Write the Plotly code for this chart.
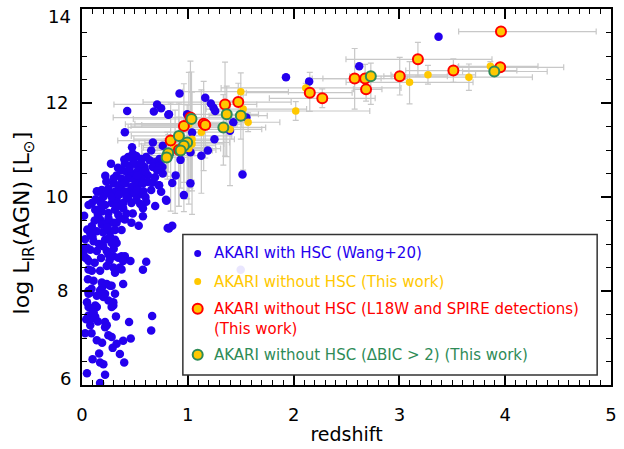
import plotly.graph_objects as go

# AKARI sources with HSC counterparts (Wang+20)
blue_z = [
    0.427, 0.710, 0.748, 0.679, 0.816, 0.405, 0.473, 0.670, 0.274, 0.654, 0.763,
    0.436, 0.483, 0.514, 0.561, 0.607, 0.639, 0.685, 0.732, 0.405, 0.452, 0.498,
    0.545, 0.592, 0.670, 0.732, 0.374, 0.421, 0.467, 0.530, 0.576, 0.623, 0.710,
    0.763, 0.327, 0.374, 0.436, 0.498, 0.561, 0.623, 0.296, 0.343, 0.405, 0.467,
    0.530, 0.576, 0.670, 0.726, 0.748, 0.187, 0.249, 0.312, 0.374, 0.436, 0.483,
    0.654, 0.140,
    0.156, 0.249, 0.405, 0.498, 0.545, 0.062, 0.093, 0.171, 0.218, 0.280, 0.327,
    0.389, 0.436, 0.467, 0.514, 0.607, 0.692, 0.794, 0.576, 0.125, 0.187, 0.249,
    0.312, 0.389, 0.343, 0.576, 0.405, 0.467, 0.536, 0.171, 0.187, 0.234, 0.296,
    0.327, 0.093, 0.078, 0.140, 0.265, 0.312, 0.374, 0.810, 0.109, 0.218, 0.265,
    0.312, 0.280, 0.327, 0.047, 0.078, 0.140, 0.234, 0.249, 0.296, 0.343, 0.374,
    0.405, 0.389, 0.458, 0.607, 0.576, 0.031, 0.062, 0.062, 0.093, 0.171, 0.234,
    0.296, 0.312, 0.358, 0.374, 0.056, 0.109, 0.187, 0.234, 0.280, 0.389,
    0.187, 0.265, 0.062, 0.078, 0.171, 0.218, 0.202, 0.312, 0.047, 0.062, 0.093,
    0.125, 0.140, 0.296, 0.296, 0.280, 0.062, 0.093, 0.125, 0.078, 0.321, 0.218,
    0.234, 0.218, 0.445, 0.663, 0.654, 0.249, 0.280, 0.461, 0.389, 0.327, 0.290,
    0.162, 0.358, 0.171, 0.202, 0.399, 0.047, 0.218, 0.171,
    0.050, 0.028, 0.050, 0.012, 0.060, 0.075,
    0.922, 1.165, 1.218, 1.243, 1.259, 0.822, 0.994, 1.041, 1.430, 1.399, 1.554,
    1.252, 1.190, 1.128, 1.025, 0.754, 0.760, 0.885, 0.853, 1.025, 0.963, 1.517,
    0.729, 0.931,
    0.798, 0.822, 0.853, 1.928, 2.147, 2.620, 3.370, 1.500,
    0.200, 0.280, 0.350, 0.420, 0.520, 0.580, 0.600, 0.550, 0.480, 0.420,
    0.360, 0.250, 0.150, 0.120, 0.200, 0.240, 0.020, 0.030, 0.100, 0.160,
    0.200, 0.180, 0.120, 0.260, 0.300, 0.090, 0.140, 0.250, 0.040, 0.110,
    0.150, 0.030, 0.090, 0.140, 0.190, 0.100, 0.330, 0.450, 0.520, 0.600,
    0.690, 0.560, 0.480, 0.400, 0.340, 0.300, 0.230, 0.180, 0.130, 0.220,
]
blue_lir = [
    11.83, 11.97, 11.89, 11.82, 11.75, 11.38, 11.06, 11.16, 10.71, 10.99, 11.09,
    10.85, 10.81, 10.87, 10.81, 10.85, 10.78, 10.74, 10.81, 10.71, 10.67, 10.71,
    10.67, 10.64, 10.64, 10.67, 10.57, 10.53, 10.50, 10.57, 10.52, 10.46, 10.57,
    10.50, 10.46, 10.39, 10.39, 10.36, 10.39, 10.32, 10.29, 10.25, 10.29, 10.22,
    10.25, 10.29, 10.31, 10.25, 10.11, 10.15, 10.18, 10.11, 10.15, 10.11, 10.08,
    10.15, 10.12,
    10.11, 10.08, 10.11, 10.08, 10.06, 9.83, 9.87, 9.90, 9.83, 9.87, 9.94,
    9.87, 9.97, 9.87, 9.94, 9.90, 9.81, 9.94, 9.76, 9.73, 9.69, 9.66,
    9.73, 9.76, 9.62, 9.59, 9.52, 9.45, 9.39, 9.52, 9.41, 9.45, 9.45,
    9.45, 9.38, 9.23, 9.27, 9.27, 9.30, 9.30, 9.34, 9.06, 9.09, 9.16,
    9.09, 9.02, 9.02, 8.92, 8.88, 8.85, 8.85, 8.78, 8.74, 8.71, 8.74,
    8.74, 8.64, 8.64, 8.62, 8.45, 8.71, 8.64, 8.46, 8.43, 8.43, 8.53,
    8.50, 8.39, 8.50, 8.46, 8.25, 8.22, 8.18, 8.15, 8.11, 8.15,
    8.06, 8.11, 7.94, 7.97, 8.01, 7.94, 7.87, 7.94, 7.76, 7.66, 7.62,
    7.69, 7.66, 7.76, 7.69, 7.66, 7.48, 7.45, 7.45, 7.27, 7.46, 7.34,
    7.27, 7.23, 7.34, 7.47, 7.16, 7.06, 7.02, 6.99, 6.94, 6.88, 6.79,
    6.67, 6.66, 6.48, 6.44, 6.48, 6.25, 6.22, 6.04,
    9.31, 8.92, 8.68, 8.80, 8.00, 7.37,
    12.20, 12.11, 11.99, 11.90, 11.83, 11.76, 11.76, 11.37, 11.59, 11.41, 11.69,
    11.23, 10.99, 10.88, 10.95, 10.81, 10.64, 10.46, 10.30, 10.29, 10.04, 10.48,
    10.25, 10.79,
    9.92, 9.33, 9.39, 12.55, 12.46, 12.78, 13.41, 8.45,
    10.00, 10.00, 10.05, 10.00, 10.15, 10.12, 10.00, 9.85, 9.65, 9.65,
    9.55, 9.55, 9.62, 9.50, 9.25, 9.35, 9.60, 9.10, 9.15, 9.00,
    8.95, 8.70, 8.60, 8.65, 8.90, 8.05, 7.90, 7.80, 7.40, 7.55,
    7.35, 7.10, 7.10, 6.95, 6.90, 6.55, 9.80, 10.60, 10.45, 10.55,
    10.42, 10.72, 10.92, 10.80, 10.62, 10.40, 10.33, 9.78, 9.95, 10.45,
]

# AKARI sources without HSC counterparts (this work)
nh_z = [
    3.960, 3.175, 2.577, 2.676, 2.730, 2.685, 3.003, 3.270, 3.096, 3.510,
    3.657, 3.860, 3.953, 3.897, 2.153, 2.271, 2.115, 2.020, 1.501, 1.477,
    1.352, 1.368, 1.501, 1.523, 1.570, 1.336, 1.399, 1.150, 1.165, 1.128,
    1.025, 1.035, 0.963, 1.010, 0.916, 0.838, 0.994, 1.040, 0.916, 0.963,
    1.040, 0.807, 0.815, 0.800, 0.880, 0.932, 1.010,
]
nh_lir = [
    13.52, 12.93, 12.52, 12.52, 12.57, 12.29, 12.57, 12.60, 12.44, 12.69,
    12.55, 12.78, 12.76, 12.67, 12.22, 12.10, 12.32, 11.83, 12.24, 12.02,
    11.97, 11.76, 11.73, 11.87, 11.59, 11.48, 11.44, 11.56, 11.53, 11.38,
    11.69, 11.66, 11.51, 11.55, 11.30, 11.20, 11.16, 11.23, 11.00, 11.09,
    11.13, 10.88, 10.93, 10.84, 11.05, 10.99, 11.03,
]
nh_z_err_lo = [
    0.40, 0.68, 0.30, 0.50, 0.20, 0.12, 0.15, 0.35, 0.60, 0.45,
    0.60, 0.30, 0.40, 0.30, 0.60, 0.50, 0.80, 0.80, 0.55, 0.90,
    1.05, 0.40, 0.30, 0.35, 0.50, 0.90, 0.40, 0.65, 0.60, 0.70,
    0.73, 0.55, 0.50, 0.60, 0.45, 0.50, 0.40, 0.55, 0.35, 0.40,
    0.50, 0.20, 0.25, 0.20, 0.30, 0.30, 0.30,
]
nh_z_err_hi = [
    0.90, 0.70, 0.25, 0.40, 0.20, 0.15, 0.45, 0.45, 0.60, 0.60,
    0.60, 0.45, 0.60, 0.50, 0.40, 0.50, 0.90, 0.70, 0.45, 0.50,
    0.30, 0.30, 0.25, 0.60, 0.30, 0.40, 0.30, 0.30, 0.30, 0.25,
    0.45, 0.35, 0.40, 0.50, 0.50, 0.40, 0.40, 0.40, 0.35, 0.30,
    0.30, 0.30, 0.25, 0.20, 0.30, 0.30, 0.30,
]
nh_lir_err_lo = [
    0.06, 0.36, 0.65, 0.30, 0.60, 0.25, 0.40, 0.20, 0.46, 0.25,
    0.28, 0.10, 0.08, 0.08, 0.40, 0.20, 0.10, 0.20, 0.40, 0.40,
    1.10, 0.90, 0.50, 1.30, 0.20, 0.80, 1.20, 1.00, 0.70, 1.30,
    1.50, 1.30, 1.20, 1.70, 1.50, 1.50, 1.20, 1.60, 1.20, 1.40,
    1.00, 0.50, 0.40, 0.40, 1.40, 0.80, 0.90,
]
nh_lir_err_hi = [
    0.06, 0.36, 0.64, 0.30, 0.28, 0.25, 0.40, 0.20, 0.44, 0.25,
    0.28, 0.10, 0.08, 0.08, 0.43, 0.20, 0.10, 0.20, 0.40, 0.40,
    0.90, 0.60, 0.50, 0.30, 0.20, 0.70, 0.60, 0.90, 0.60, 0.90,
    1.20, 1.00, 0.90, 1.10, 0.70, 0.80, 0.80, 1.00, 0.70, 0.60,
    0.50, 0.50, 0.40, 0.40, 0.80, 0.50, 0.60,
]
# y: plain, r: L18W and SPIRE detections, g: delta BIC > 2
nh_class = [
    "r", "r", "r", "r", "g", "r", "r", "y", "y", "r",
    "y", "y", "r", "g", "r", "r", "y", "y", "y", "r",
    "r", "g", "g", "y", "y", "g", "y", "r", "r", "y",
    "r", "g", "r", "y", "g", "r", "g", "y", "r", "g",
    "y", "g", "g", "g", "y", "g", "y",
]

x_ticks = [0, 1, 2, 3, 4, 5]
y_ticks = [6, 8, 10, 12, 14]

legend_labels = [
    "AKARI with HSC (Wang+20)",
    "AKARI without HSC (This work)",
    "AKARI without HSC (L18W and SPIRE detections)",
    "(This work)",
    "AKARI without HSC (\u0394BIC > 2) (This work)",
]

BLUE = "#2400ee"
GOLD = "#ffc800"
RED = "#ff0000"
GREEN = "#2e8b57"
GREY = "#c8c8c8"
FONT = "DejaVu Sans"

# plot area in pixels (used to place the legend panel and edge labels)
PLOT_L, PLOT_R, PLOT_T, PLOT_B = 82, 617, 7, 387


def px_x(px):
    return (px - PLOT_L) / (PLOT_R - PLOT_L)


def px_y(py):
    return (PLOT_B - py) / (PLOT_B - PLOT_T)


def pick(values, cls):
    return [v for v, c in zip(values, nh_class) if c == cls]


fig = go.Figure()

# error bars of the no-HSC sample, below everything else
fig.add_trace(go.Scatter(
    x=nh_z, y=nh_lir, mode="markers",
    marker=dict(size=6, color="rgba(0,0,0,0)"),
    error_x=dict(type="data", symmetric=False, array=nh_z_err_hi,
                 arrayminus=nh_z_err_lo, color=GREY, thickness=1.2, width=3),
    error_y=dict(type="data", symmetric=False, array=nh_lir_err_hi,
                 arrayminus=nh_lir_err_lo, color=GREY, thickness=1.2, width=3),
    showlegend=False, hoverinfo="skip",
))

fig.add_trace(go.Scatter(
    x=blue_z, y=blue_lir, mode="markers",
    marker=dict(size=8.5, color=BLUE, line=dict(width=0)),
    showlegend=False,
))

fig.add_trace(go.Scatter(
    x=pick(nh_z, "y"), y=pick(nh_lir, "y"), mode="markers",
    marker=dict(size=7.5, color=GOLD, line=dict(width=0)),
    showlegend=False,
))

fig.add_trace(go.Scatter(
    x=pick(nh_z, "r"), y=pick(nh_lir, "r"), mode="markers",
    marker=dict(size=10, color=GOLD, line=dict(width=2, color=RED)),
    showlegend=False,
))

fig.add_trace(go.Scatter(
    x=pick(nh_z, "g"), y=pick(nh_lir, "g"), mode="markers",
    marker=dict(size=10, color=GOLD, line=dict(width=2, color=GREEN)),
    showlegend=False,
))

tick_font = dict(family=FONT, size=18, color="black")
axis_common = dict(
    showline=True, linecolor="black", linewidth=2, mirror="allticks",
    ticks="inside", ticklen=10, tickwidth=1.5, tickcolor="black",
    showgrid=False, zeroline=False, tickmode="array",
    tickfont=tick_font,
)

fig.update_xaxes(
    range=[0, 5], tickvals=x_ticks, ticklabelstandoff=12,
    ticklabeloverflow="allow",
    minor=dict(tickmode="linear", tick0=0, dtick=0.1, ticklen=5, tickwidth=1.2,
               tickcolor="black", ticks="inside"),
    title=dict(text="redshift", font=dict(family=FONT, size=19, color="black"), standoff=4),
    **axis_common,
)
# the end labels 6 and 14 are nudged inward, so they are set as separate texts
fig.update_yaxes(
    range=[6, 14], tickvals=y_ticks, ticklabelstandoff=8,
    ticktext=["" if v in (y_ticks[0], y_ticks[-1]) else str(v) for v in y_ticks],
    minor=dict(tickmode="linear", tick0=6, dtick=0.5, ticklen=5, tickwidth=1.2,
               tickcolor="black", ticks="inside"),
    **axis_common,
)

annotations = [
    dict(text="log L<sub>IR</sub>(AGN) [L<sub>\u2299</sub>]", textangle=-90,
         xref="paper", yref="paper", x=px_x(23), y=px_y(223),
         xanchor="center", yanchor="middle",
         showarrow=False, font=dict(family=FONT, size=22, color="black")),
    dict(text=str(y_ticks[-1]), xref="paper", yref="paper", x=px_x(73), y=px_y(15),
         xanchor="right", yanchor="middle", showarrow=False, font=tick_font),
    dict(text=str(y_ticks[0]), xref="paper", yref="paper", x=px_x(73), y=px_y(380),
         xanchor="right", yanchor="middle", showarrow=False, font=tick_font),
]

# legend panel
shapes = [
    dict(type="rect", xref="paper", yref="paper", layer="above",
         x0=px_x(184), x1=px_x(603), y0=px_y(377), y1=px_y(235),
         fillcolor="rgba(255,255,255,0.9)", line=dict(color="#333333", width=1.5)),
]
mx = px_x(199)
tx = px_x(213)
rows = [px_y(254), px_y(282.5), px_y(310), px_y(330.5), px_y(356.5)]
entry_style = [
    (BLUE, None, 7, BLUE),
    (GOLD, None, 7, GOLD),
    (GOLD, RED, 10, RED),
    None,
    (GOLD, GREEN, 10, GREEN),
]
for label, ry, style in zip(legend_labels, rows, entry_style):
    if style is not None:
        fill, ring, size, txt_color = style
        half = size / 2
        shapes.append(dict(
            type="circle", xref="paper", yref="paper", layer="above",
            xsizemode="pixel", ysizemode="pixel", xanchor=mx, yanchor=ry,
            x0=-half, x1=half, y0=-half, y1=half, fillcolor=fill,
            line=dict(color=ring if ring else fill, width=2 if ring else 0),
        ))
    else:
        txt_color = RED
    annotations.append(dict(
        text=label, xref="paper", yref="paper", x=tx, y=ry,
        xanchor="left", yanchor="middle", showarrow=False,
        font=dict(family=FONT, size=15, color=txt_color),
    ))

fig.update_layout(
    width=624, height=449,
    margin=dict(l=PLOT_L, r=624 - PLOT_R, t=PLOT_T, b=449 - PLOT_B),
    paper_bgcolor="white", plot_bgcolor="white",
    showlegend=False,
    shapes=shapes, annotations=annotations,
)

fig.write_html("out.html")
